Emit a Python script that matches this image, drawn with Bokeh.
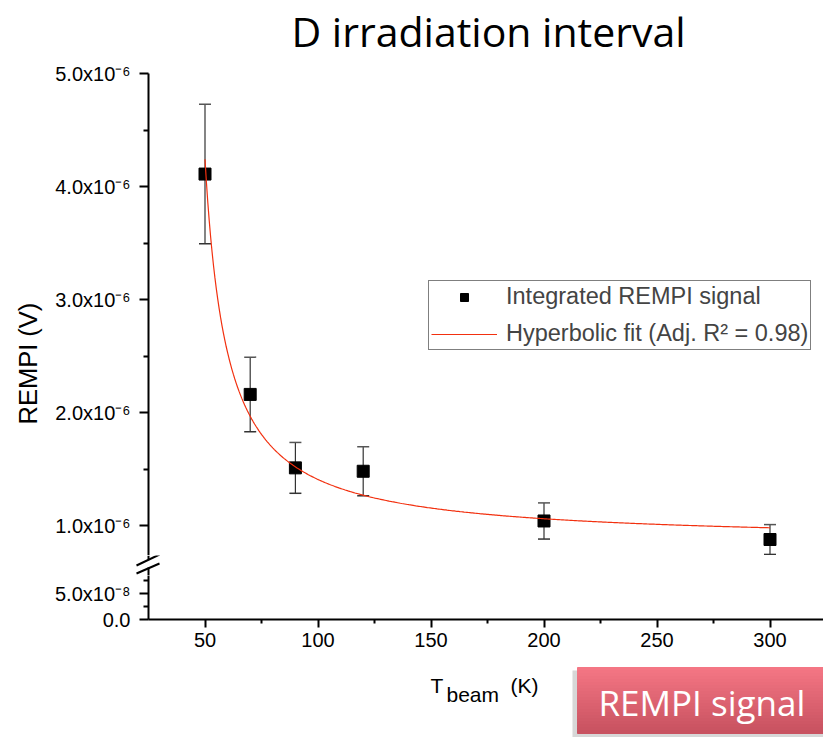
import numpy as np
from bokeh.plotting import figure
from bokeh.layouts import column
from bokeh.models import (ColumnDataSource, Whisker, TeeHead, FixedTicker, CustomJSTickFormatter,
                          Legend, LegendItem, Label, Range1d, Title)
from bokeh.embed import file_html
from bokeh.resources import INLINE

# ---- measured REMPI signal vs beam temperature ----
t_beam = [50, 70, 90, 120, 200, 300]
signal = [4.11e-6, 2.16e-6, 1.51e-6, 1.48e-6, 1.04e-6, 0.876e-6]
signal_err = [0.617e-6, 0.33e-6, 0.225e-6, 0.217e-6, 0.16e-6, 0.132e-6]

# hyperbolic fit  y = y0 + A / (x - x0)
fit_y0 = 0.852e-6
fit_a = 33.21e-6
fit_x0 = 40.2
fit_x_start, fit_x_end = 50, 300

title_text = "D irradiation interval"
y_title = "REMPI (V)"
data_label = "Integrated REMPI signal"
fit_label = "Hyperbolic fit (Adj. R\u00b2 = 0.98)"
badge_text = "REMPI signal"

x_ticks = [50, 100, 150, 200, 250, 300]
x_minor = [75, 125, 175, 225, 275]
upper_ticks = [1e-6, 2e-6, 3e-6, 4e-6, 5e-6]
upper_minor = [1.5e-6, 2.5e-6, 3.5e-6, 4.5e-6]
lower_ticks = [0.0, 5e-8]
lower_minor = [2.5e-8, 7.5e-8]

# ---- page geometry (pixels from the top-left of the page) ----
W, H = 823, 737
LEFT = 148                    # x of the y axis
HEAD_H, TOP_H, BAND_H, BOT_H = 60, 495, 20, 87
FOOT_H = H - HEAD_H - TOP_H - BAND_H - BOT_H
TOP_TOP = HEAD_H
BAND_TOP = TOP_TOP + TOP_H
BOT_TOP = BAND_TOP + BAND_H
FOOT_TOP = BOT_TOP + BOT_H
UP_TOP = 73                   # y of 5.0e-6
PX_PER_UV = 113.0             # pixels per 1e-6 V on the upper segment
UP_BREAK, LO_BREAK = 559, 567  # ends of the two axis segments at the break
LO_ZERO = 619                 # y of 0.0 (x axis)
PX_PER_LV = 52.0              # pixels per 1e-7 V on the lower segment
X_RANGE = (25, 25 + (W - LEFT) / 2.26)
UPPER_RANGE = (5.0e-6 - (BAND_TOP - UP_TOP) / PX_PER_UV * 1e-6, 5.0e-6)
LOWER_RANGE = (0.0, (LO_ZERO - BOT_TOP) / PX_PER_LV * 1e-7)
BREAK_MARKS = [(136, 565, 159, 554), (136, 573, 159, 563)]

TICK_FONT = "Liberation Sans"
TITLE_FONT = "Open Sans"
LABEL_DROP = 0.41             # labels on the strips sit this many em below the given baseline


def style_axis(ax, tick_out, minor_out):
    ax.axis_line_color = "black"
    ax.axis_line_width = 2
    ax.major_tick_line_color = "black"
    ax.major_tick_line_width = 2
    ax.minor_tick_line_color = "black"
    ax.minor_tick_line_width = 2
    ax.major_tick_in = 0
    ax.major_tick_out = tick_out
    ax.minor_tick_in = 0
    ax.minor_tick_out = minor_out
    ax.major_label_text_font = TICK_FONT
    ax.major_label_text_font_size = "20px"
    ax.major_label_text_color = "black"


def canvas_strip(top, height):
    """Axis-less strip whose data units are page pixels (y grows downwards)."""
    p = figure(width=W, height=height, x_range=Range1d(0, W), y_range=Range1d(top + height, top),
               output_backend="svg", toolbar_location=None,
               x_axis_location=None, y_axis_location=None,
               min_border_left=0, min_border_right=0, min_border_top=0, min_border_bottom=0,
               outline_line_color=None, background_fill_color="white", border_fill_color="white")
    p.grid.visible = False
    if "frame_align" in p.properties():
        p.frame_align = False      # keep the full-width frame inside the column
    return p


def strip_text(p, text, x, baseline, size, font, color="black", align="left"):
    p.add_layout(Label(x=x, y=baseline - LABEL_DROP * size, text=text,
                       text_align=align, text_baseline="alphabetic",
                       text_font=font, text_font_size=f"{size}px", text_color=color))


# ---- heading ----
p_head = canvas_strip(0, HEAD_H)
strip_text(p_head, title_text, 488, 47, 41, TITLE_FONT, align="center")

# ---- upper part: data, fit, legend ----
p_top = figure(width=W, height=TOP_H, x_range=Range1d(*X_RANGE), y_range=Range1d(*UPPER_RANGE),
               output_backend="svg", toolbar_location=None, x_axis_location=None,
               min_border_left=LEFT, min_border_right=0, min_border_top=UP_TOP - TOP_TOP,
               min_border_bottom=0, outline_line_color=None,
               background_fill_color="white", border_fill_color="white")
p_top.grid.visible = False

ay = p_top.yaxis[0]
style_axis(ay, 9, 5)
ay.ticker = FixedTicker(ticks=upper_ticks, minor_ticks=upper_minor)
ay.formatter = CustomJSTickFormatter(code="return (tick / 1e-6).toFixed(1) + 'x10\u207b\u2076';")
ay.major_label_standoff = 9

p_top.add_layout(Title(text=y_title, align="left", offset=BAND_TOP - 424, standoff=21,
                       text_font=TICK_FONT, text_font_size="25.5px",
                       text_font_style="normal", text_color="black"), "left")

src = ColumnDataSource(dict(
    x=t_beam, y=signal,
    upper=[v + e for v, e in zip(signal, signal_err)],
    lower=[v - e for v, e in zip(signal, signal_err)],
))
p_top.add_layout(Whisker(source=src, base="x", upper="upper", lower="lower",
                         line_color="#333333", line_width=1.2,
                         upper_head=TeeHead(size=12, line_color="#555555", line_width=1.5),
                         lower_head=TeeHead(size=12, line_color="#333333", line_width=1.5)))
pts = p_top.scatter("x", "y", source=src, marker="square", size=12,
                    fill_color="black", line_color="black")

xf = np.linspace(fit_x_start, fit_x_end, 400)
yf = fit_y0 + fit_a / (xf - fit_x0)
fit = p_top.line(xf, yf, line_color="#F2300F", line_width=1.2)

legend = Legend(items=[LegendItem(label=data_label, renderers=[pts]),
                       LegendItem(label=fit_label, renderers=[fit])],
                location=(280, BAND_TOP - 350), orientation="vertical",
                border_line_color="black", border_line_width=1,
                background_fill_color="white", background_fill_alpha=1.0,
                label_text_font=TICK_FONT, label_text_font_size="23.5px",
                glyph_width=66, glyph_height=20, label_standoff=9,
                padding=2, spacing=10, margin=0)
p_top.add_layout(legend)

# ---- axis break band ----
p_band = canvas_strip(BAND_TOP, BAND_H)
p_band.segment(x0=[LEFT, LEFT], y0=[BAND_TOP, LO_BREAK], x1=[LEFT, LEFT], y1=[UP_BREAK, BOT_TOP],
               line_color="black", line_width=2)
p_band.segment(x0=[m[0] for m in BREAK_MARKS], y0=[m[1] for m in BREAK_MARKS],
               x1=[m[2] for m in BREAK_MARKS], y1=[m[3] for m in BREAK_MARKS],
               line_color="black", line_width=2)

# ---- lower part: zero segment of the y axis and the x axis ----
p_bot = figure(width=W, height=BOT_H, x_range=p_top.x_range, y_range=Range1d(*LOWER_RANGE),
               output_backend="svg", toolbar_location=None,
               min_border_left=LEFT, min_border_right=0, min_border_top=0,
               min_border_bottom=BOT_TOP + BOT_H - LO_ZERO, outline_line_color=None,
               background_fill_color="white", border_fill_color="white")
p_bot.grid.visible = False

ax = p_bot.xaxis[0]
style_axis(ax, 8, 4)
ax.ticker = FixedTicker(ticks=x_ticks, minor_ticks=x_minor)
ax.major_label_standoff = 5

ly = p_bot.yaxis[0]
style_axis(ly, 9, 5)
ly.ticker = FixedTicker(ticks=lower_ticks, minor_ticks=lower_minor)
ly.formatter = CustomJSTickFormatter(
    code="return tick === 0 ? '0.0' : (tick / 1e-8).toFixed(1) + 'x10\u207b\u2078';")
ly.major_label_standoff = 9

# ---- footer: x axis title and the badge ----
p_foot = canvas_strip(FOOT_TOP, FOOT_H)

strip_text(p_foot, "T", 430, 694, 21, TICK_FONT)
strip_text(p_foot, "beam", 446, 703, 21, TICK_FONT)
strip_text(p_foot, "(K)", 510, 694, 21, TICK_FONT)

badge_left, badge_top, badge_bottom = 577, 667, 733
p_foot.quad(left=[badge_left - 5], right=[W], top=[badge_top + 3], bottom=[H],
            fill_color="#BDBDBD", fill_alpha=0.6, line_color=None)
n_bands = 22
edges = np.linspace(badge_top, badge_bottom, n_bands + 1)
c_top = np.array([0xF4, 0x76, 0x84])
c_bot = np.array([0xC8, 0x52, 0x60])
band_colors = ["#%02x%02x%02x" % tuple(int(round(v)) for v in c_top + (c_bot - c_top) * i / (n_bands - 1))
               for i in range(n_bands)]
p_foot.quad(left=badge_left, right=W, top=edges[:-1], bottom=edges[1:],
            fill_color=band_colors, line_color=band_colors)
strip_text(p_foot, badge_text, 598, 716, 35, TITLE_FONT, color="white")

layout = column(p_head, p_top, p_band, p_bot, p_foot, spacing=0)

with open("out.html", "w", encoding="utf-8") as f:
    f.write(file_html(layout, INLINE))
